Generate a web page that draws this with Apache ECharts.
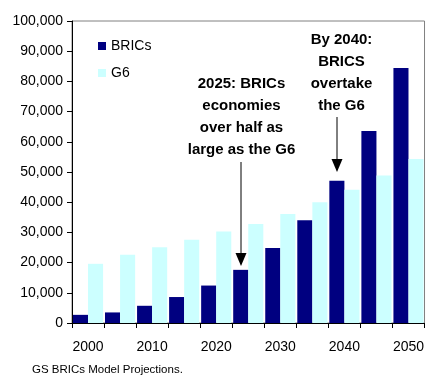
<!DOCTYPE html>
<html>
<head>
<meta charset="utf-8">
<script src="https://cdn.jsdelivr.net/npm/echarts@6/dist/echarts.min.js"></script>
<style>
  html, body { margin: 0; padding: 0; background: #fff; }
  #chart { width: 427px; height: 376px; }
</style>
</head>
<body>
<div id="chart"></div>
<script>
// GDP, US$ bn (2003 prices), five-year steps
var years = ['2000', '2005', '2010', '2015', '2020', '2025', '2030', '2035', '2040', '2045', '2050'];
var bricsGdp = [2700, 3500, 5700, 8600, 12400, 17600, 24800, 34000, 47100, 63600, 84400];
var g6Gdp = [19600, 22600, 25100, 27600, 30300, 32800, 36100, 40000, 44100, 48800, 54300];
var yTicks = { min: 0, max: 100000, step: 10000 };

var FONT = '"Liberation Sans", Arial, sans-serif';

var chart = echarts.init(document.getElementById('chart'), null, { renderer: 'canvas' });

// vertical call-out arrow with a filled triangular head
function arrow(x, y1, y2) {
  return [
    { type: 'line', shape: { x1: x, y1: y1, x2: x, y2: y2 - 12 },
      style: { stroke: '#000', lineWidth: 1 }, z: 10 },
    { type: 'polygon', shape: { points: [[x - 5.5, y2 - 13], [x + 5.5, y2 - 13], [x, y2]] },
      style: { fill: '#000' }, z: 10 }
  ];
}

chart.setOption({
  animation: false,
  grid: {
    left: 72, right: 1, top: 21, bottom: 53,
    show: true, borderColor: '#808080', borderWidth: 1, backgroundColor: 'transparent'
  },
  legend: {
    orient: 'vertical', left: 93, top: 34, itemWidth: 8, itemHeight: 8, itemGap: 13,
    icon: 'rect',
    textStyle: { fontFamily: FONT, fontSize: 14, color: '#000' },
    data: ['BRICs', 'G6']
  },
  xAxis: {
    type: 'category', data: years,
    axisLine: { lineStyle: { color: '#000', width: 1 } },
    axisTick: { show: true, interval: 0, length: 5, lineStyle: { color: '#000' } },
    axisLabel: { interval: 1, margin: 17, fontFamily: FONT, fontSize: 14, color: '#000' },
    splitLine: { show: false }
  },
  yAxis: {
    type: 'value', min: yTicks.min, max: yTicks.max, interval: yTicks.step,
    axisLine: { show: true, lineStyle: { color: '#000', width: 1 } },
    axisTick: { show: true, length: 5, lineStyle: { color: '#000' } },
    axisLabel: {
      margin: 9, fontFamily: FONT, fontSize: 14, color: '#000',
      formatter: function (v) { return v.toLocaleString('en-US'); }
    },
    splitLine: { show: false }
  },
  series: [
    { name: 'BRICs', type: 'bar', data: bricsGdp, barGap: '0%', barCategoryGap: '6%',
      itemStyle: { color: '#000080' } },
    { name: 'G6', type: 'bar', data: g6Gdp,
      itemStyle: { color: '#CCFFFF' } }
  ],
  graphic: [
    { type: 'text', x: 241.5, y: 73, z: 10,
      style: { text: '2025: BRICs\neconomies\nover half as\nlarge as the G6',
        font: 'bold 15px ' + FONT, fill: '#000', align: 'center', lineHeight: 22 } },
    { type: 'text', x: 341.5, y: 29, z: 10,
      style: { text: 'By 2040:\nBRICS\novertake\nthe G6',
        font: 'bold 15px ' + FONT, fill: '#000', align: 'center', lineHeight: 22 } },
    { type: 'text', x: 32, y: 364, z: 10,
      style: { text: 'GS BRICs Model Projections.', font: '11.5px ' + FONT, fill: '#000' } }
  ].concat(arrow(241, 162, 266), arrow(337, 117, 172))
});
</script>
</body>
</html>
